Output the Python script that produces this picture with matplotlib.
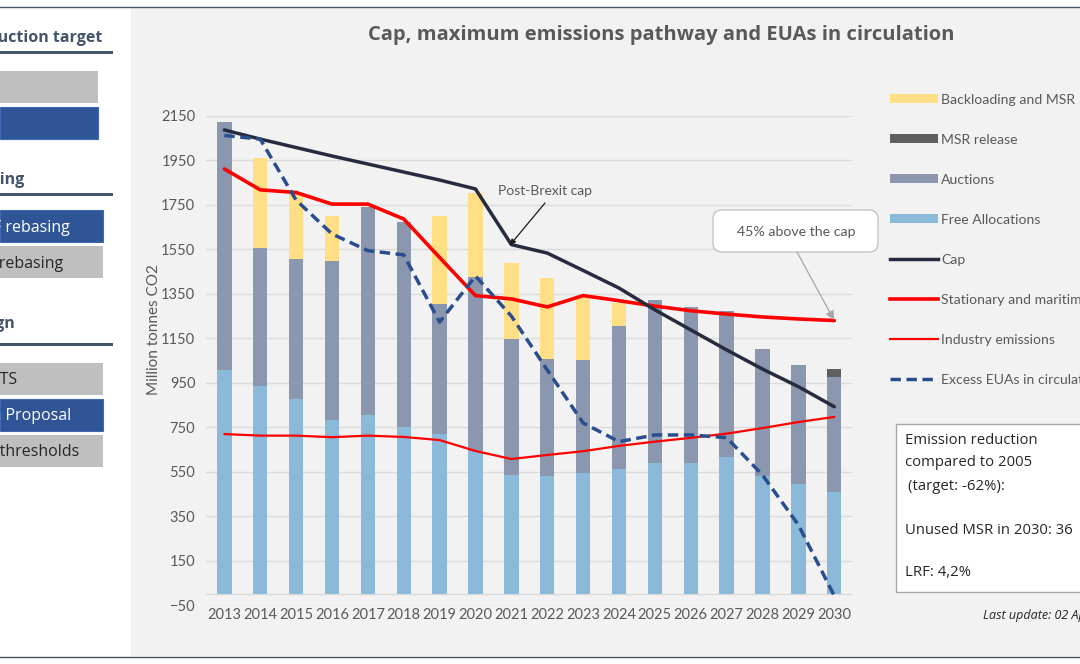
import matplotlib
matplotlib.use("Agg")
import matplotlib.pyplot as plt
from matplotlib.patches import Rectangle, FancyBboxPatch, Patch
from matplotlib.lines import Line2D

plt.rcParams['font.family'] = ['Lato', 'DejaVu Sans']
OS = ['Open Sans', 'DejaVu Sans']

years = list(range(2013, 2031))
free_alloc = [1010, 935, 877, 783, 806, 753, 720, 644, 536, 531, 547, 565, 589, 589, 619, 531, 496, 461]
auction_top = [2122, 1556, 1508, 1497, 1742, 1672, 1304, 1427, 1147, 1057, 1052, 1206, 1321, 1291, 1274, 1104, 1030, 976]
backload_top = [2122, 1960, 1809, 1701, 1742, 1672, 1701, 1802, 1490, 1421, 1340, 1308, 1321, 1291, 1274, 1104, 1030, 976]
msr_release_top = [2122, 1556, 1508, 1497, 1742, 1672, 1304, 1427, 1147, 1057, 1052, 1206, 1321, 1291, 1274, 1104, 1030, 1012]
cap = [2086, 2045, 2007, 1969, 1933, 1897, 1861, 1821, 1571, 1533, 1455, 1376, 1278, 1188, 1098, 1012, 933, 843]
stationary = [1911, 1817, 1805, 1753, 1753, 1686, 1513, 1342, 1327, 1291, 1342, 1319, 1295, 1274, 1259, 1246, 1237, 1230]
industry = [720, 713, 713, 706, 713, 707, 693, 644, 608, 626, 643, 667, 686, 703, 722, 747, 774, 797]
excess = [2061, 2045, 1771, 1619, 1544, 1525, 1223, 1430, 1250, 1008, 770, 686, 716, 716, 704, 536, 312, -6]
yticks = list(range(-50, 2151, 200))

TXT = '#595959'
W, H = 1080, 664
fig = plt.figure(figsize=(W / 100, H / 100), dpi=100, facecolor='white')

# page overlay in pixel coordinates
bg = fig.add_axes([0, 0, 1, 1], zorder=0)
bg.set_xlim(0, W); bg.set_ylim(H, 0); bg.axis('off')
bg.add_patch(Rectangle((131, 7), W - 131, 649, fc='#f2f2f2', ec='none'))
bg.plot([0, W], [6.5, 6.5], color='#44546a', lw=1)
bg.plot([0, W], [657, 657], color='#44546a', lw=1)

def heading(text, xr, y, rule_y):
    bg.text(xr, y + 1.5, text, ha='right', va='center', fontsize=11.5, fontweight='bold',
            color='#44546a', family=OS)
    bg.add_patch(Rectangle((0, rule_y - 1.5), 113, 3, fc='#44546a', ec='none'))

def button(x1, y1, y2, active, text=None, xr=None):
    fc = '#2f5597' if active else '#bfbfbf'
    bg.add_patch(Rectangle((0, y1), x1, y2 - y1, fc=fc, ec='#3f68b5' if active else 'none', lw=0.8))
    if text:
        bg.text(xr, (y1 + y2) / 2 + 1.5, text, ha='right', va='center', fontsize=11.5, family=OS,
                color='white' if active else '#262626')

heading('Emission reduction target', 102, 36, 52)
button(98, 71, 103, False)
button(98, 107, 139, True)
heading('Rebasing', 25, 178, 194)
button(103, 210, 242, True, 'LRF rebasing', 70)
button(103, 246, 278, False, 'No rebasing', 63)
heading('MSR design', 15, 322, 344)
button(103, 363, 395, False, 'EU ETS', 17)
button(103, 399, 431, True, 'Commission Proposal', 71)
button(103, 435, 467, False, 'Different thresholds', 79)

bg.text(661, 35, 'Cap, maximum emissions pathway and EUAs in circulation', ha='center', va='center',
        fontsize=14.5, fontweight='bold', color=TXT, family=OS)

# chart
L, R, T, B = 206.4, 852.2, 115.7, 605.5
ax = fig.add_axes([L / W, 1 - B / H, (R - L) / W, (B - T) / H], zorder=1)
ax.patch.set_alpha(0)
x = list(range(len(years)))
auction_h = [a - f for a, f in zip(auction_top, free_alloc)]
back_h = [b - a for b, a in zip(backload_top, auction_top)]
rel_h = [m - a for m, a in zip(msr_release_top, auction_top)]
bw = 0.4
ax.bar(x, free_alloc, bw, color='#8ab9d9', zorder=2)
ax.bar(x, auction_h, bw, bottom=free_alloc, color='#8a97ae', zorder=2)
ax.bar(x, back_h, bw, bottom=auction_top, color='#ffdf85', zorder=2)
ax.bar(x, rel_h, bw, bottom=auction_top, color='#5f5f5f', zorder=2)
ax.plot(x, industry, color='#ff0000', lw=1.6, zorder=3, solid_capstyle='round')
ax.plot(x, stationary, color='#ff0000', lw=2.6, zorder=4, solid_capstyle='round')
ax.plot(x, cap, color='#262c3e', lw=2.5, zorder=5, solid_capstyle='round')
ax.plot(x, excess, color='#2a4d8f', lw=2.5, ls=(0, (3, 1.6)), zorder=6)
ax.axhline(0, color='#d9d9d9', lw=1, zorder=1)
ax.set_xlim(-0.5, len(years) - 0.5)
ax.set_ylim(-50, 2150)
ax.set_xticks(x, [str(y) for y in years])
ax.set_yticks(yticks)
ax.tick_params(axis='x', length=0, labelsize=10.5, labelcolor=TXT, pad=2)
ax.tick_params(axis='y', length=0, labelsize=10.5, labelcolor=TXT, pad=8)
ax.grid(axis='y', color='#dcdcdc', lw=1, zorder=0)
ax.set_axisbelow(True)
for s in ax.spines.values():
    s.set_visible(False)
ax.set_ylabel('Million tonnes CO2', fontsize=11, color=TXT)
ax.yaxis.set_label_coords((161 - L) / (R - L), (B - 330) / (B - T))

# annotations
ov = fig.add_axes([0, 0, 1, 1], zorder=2)
ov.set_xlim(0, W); ov.set_ylim(H, 0); ov.axis('off'); ov.patch.set_alpha(0)
ov.text(545, 191, 'Post-Brexit cap', ha='center', va='center', fontsize=10, color=TXT)
ov.annotate('', xy=(510, 245), xytext=(545, 203),
            arrowprops=dict(arrowstyle='-|>', color='#1a1a1a', lw=0.9, shrinkA=0, shrinkB=0, mutation_scale=8))
ov.add_patch(FancyBboxPatch((713, 210), 165, 42, boxstyle='round,pad=0,rounding_size=9',
                            fc='white', ec='#bfbfbf', lw=0.9, zorder=2))
ov.text(796, 232, '45% above the cap', ha='center', va='center', fontsize=10.2, color=TXT, zorder=3)
ov.annotate('', xy=(834, 320), xytext=(797, 252),
            arrowprops=dict(arrowstyle='-|>', color='#a6a6a6', lw=0.9, shrinkA=0, shrinkB=0, mutation_scale=13))

handles = [
    Patch(fc='#ffdf85', label='Backloading and MSR'),
    Patch(fc='#5f5f5f', label='MSR release'),
    Patch(fc='#8a97ae', label='Auctions'),
    Patch(fc='#8ab9d9', label='Free Allocations'),
    Line2D([], [], color='#262c3e', lw=2.5, label='Cap'),
    Line2D([], [], color='#ff0000', lw=2.6, label='Stationary and maritime emissions'),
    Line2D([], [], color='#ff0000', lw=1.6, label='Industry emissions'),
    Line2D([], [], color='#2a4d8f', lw=2.5, ls=(0, (3, 1.6)), label='Excess EUAs in circulation'),
]
leg = fig.legend(handles=handles, loc='upper left', bbox_to_anchor=(890 / W, 1 - 93.5 / H),
                 bbox_transform=fig.transFigure, frameon=False, fontsize=10.1, labelcolor=TXT,
                 handlelength=3.4, handleheight=0.6, handletextpad=0.25,
                 labelspacing=2.0, borderpad=0, borderaxespad=0)

# info box
ov.add_patch(Rectangle((895.5, 423.5), 200, 168, fc='white', ec='#a6a6a6', lw=1, zorder=2))
for tx, ty, t in [(905, 441, 'Emission reduction'), (905, 462, 'compared to 2005'),
                  (908, 486, '(target: -62%):'), (905, 531, 'Unused MSR in 2030: 36'),
                  (905, 573, 'LRF: 4,2%')]:
    ov.text(tx, ty, t, ha='left', va='center', fontsize=10.7, color='#262626', zorder=3, family=OS)
ov.text(983, 616, 'Last update: 02 April 2021', ha='left', va='center', fontsize=9, style='italic',
        color='#262626', family=OS)

fig.savefig('out.png', dpi=100)
